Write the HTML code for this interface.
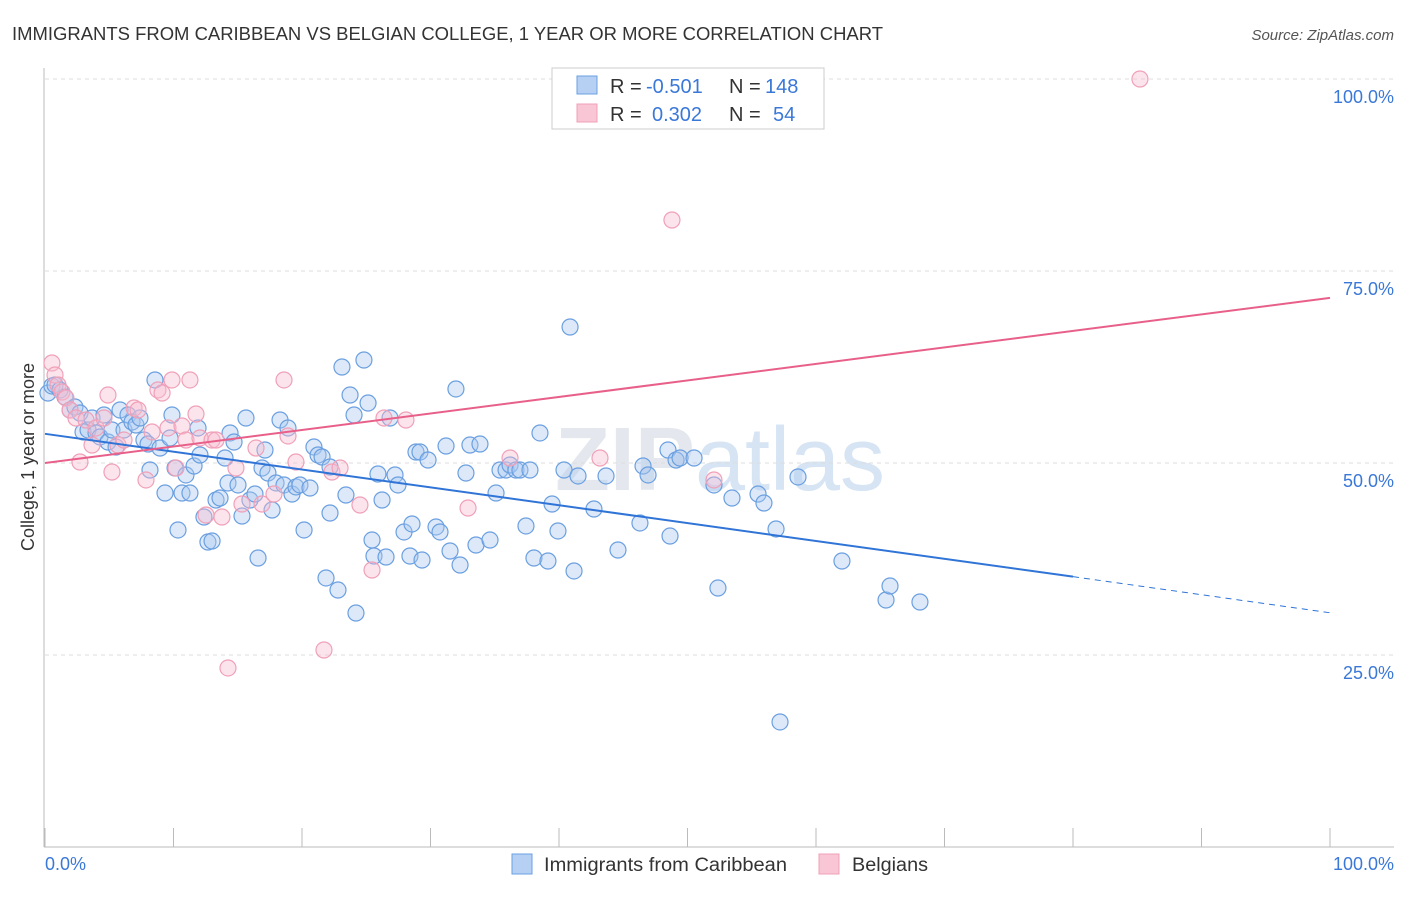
<!DOCTYPE html>
<html><head><meta charset="utf-8"><style>
body{margin:0;background:#fff;font-family:"Liberation Sans",sans-serif;}
svg text{font-family:"Liberation Sans",sans-serif;}
</style></head><body>
<svg id="chart" width="1406" height="892" xmlns="http://www.w3.org/2000/svg">
<text x="12" y="40" font-size="18.5" fill="#333" textLength="871" lengthAdjust="spacingAndGlyphs">IMMIGRANTS FROM CARIBBEAN VS BELGIAN COLLEGE, 1 YEAR OR MORE CORRELATION CHART</text>
<text x="1394" y="40" font-size="15" fill="#555" text-anchor="end" font-style="italic">Source: ZipAtlas.com</text>
<text x="720" y="490" font-size="90" fill="#e4e8ee" text-anchor="middle" font-weight="bold">ZIP<tspan fill="#d6e4f4" font-weight="normal">atlas</tspan></text>
<g id="grid"></g>
<g id="axes"></g>
<g id="pts"></g>
<g id="trend"></g>
<text x="34" y="457" font-size="18" fill="#333" text-anchor="middle" transform="rotate(-90 34 457)">College, 1 year or more</text>
<text x="45" y="870" font-size="18" fill="#3a78d8">0.0%</text>
<text x="1394" y="870" font-size="18" fill="#3a78d8" text-anchor="end">100.0%</text>
<g>
<rect x="552" y="68" width="272" height="61" fill="#fff" stroke="#ccc"/>
<rect x="577" y="76" width="20" height="18" fill="#b5d0f3" stroke="#6a9fe0"/>
<rect x="577" y="104" width="20" height="18" fill="#f9c6d6" stroke="#f0a0b8"/>
<text x="610" y="93" font-size="20" fill="#333">R =</text>
<text x="646" y="93" font-size="20" fill="#3a78d8">-0.501</text>
<text x="729" y="93" font-size="20" fill="#333">N =</text>
<text x="765" y="93" font-size="20" fill="#3a78d8">148</text>
<text x="610" y="121" font-size="20" fill="#333">R =</text>
<text x="652" y="121" font-size="20" fill="#3a78d8">0.302</text>
<text x="729" y="121" font-size="20" fill="#333">N =</text>
<text x="773" y="121" font-size="20" fill="#3a78d8">54</text>
</g>
<g>
<rect x="512" y="854" width="20" height="20" fill="#b5d0f3" stroke="#6a9fe0"/>
<text x="544" y="871" font-size="19" fill="#333" textLength="243" lengthAdjust="spacingAndGlyphs">Immigrants from Caribbean</text>
<rect x="819" y="854" width="20" height="20" fill="#f9c6d6" stroke="#f0a0b8"/>
<text x="852" y="871" font-size="19" fill="#333" textLength="76" lengthAdjust="spacingAndGlyphs">Belgians</text>
</g>
</svg>
<script>
const yTicks=[25,50,75,100];
const xTicks=[0,10,20,30,40,50,60,70,80,90,100];
// pixel-read estimates converted to percentages
const bluePx=[[48,393],[52,386],[55,385],[60,390],[65,397],[70,410],[75,407],[80,413],[83,432],[88,430],[92,418],[96,433],[100,437],[104,415],[108,442],[112,430],[116,447],[120,410],[124,430],[128,415],[132,422],[136,425],[140,418],[144,440],[148,444],[150,470],[155,380],[160,448],[165,493],[170,438],[172,415],[175,468],[178,530],[182,493],[186,475],[190,493],[194,466],[198,428],[200,455],[204,517],[208,542],[212,541],[216,500],[220,498],[225,458],[228,483],[230,433],[234,442],[238,485],[242,516],[246,418],[250,500],[255,494],[258,558],[262,468],[265,450],[268,473],[272,510],[276,483],[280,420],[284,485],[288,428],[292,494],[296,487],[300,485],[304,530],[310,488],[314,447],[318,455],[322,457],[326,578],[330,467],[330,513],[338,590],[342,367],[346,495],[350,395],[354,415],[356,613],[364,360],[368,403],[372,540],[374,556],[378,474],[382,500],[386,557],[390,418],[395,475],[398,485],[404,532],[410,556],[412,524],[416,452],[420,452],[422,560],[428,460],[436,527],[440,532],[446,446],[450,551],[456,389],[460,565],[466,473],[470,445],[476,545],[480,444],[490,540],[496,493],[500,470],[506,470],[510,465],[516,470],[520,470],[526,526],[530,470],[534,558],[540,433],[548,561],[552,504],[558,531],[564,470],[570,327],[574,571],[578,476],[594,509],[606,476],[618,550],[640,523],[643,466],[648,475],[668,450],[670,536],[676,460],[680,458],[694,458],[714,485],[718,588],[732,498],[758,494],[764,503],[776,529],[780,722],[798,477],[842,561],[886,600],[890,586],[920,602]];
const pinkPx=[[52,363],[55,375],[58,385],[62,392],[66,398],[70,410],[76,418],[80,462],[86,420],[92,445],[96,428],[104,418],[108,395],[112,472],[118,445],[124,440],[134,408],[138,410],[146,480],[152,432],[158,390],[162,393],[168,428],[172,380],[176,468],[182,426],[186,440],[190,380],[196,414],[200,438],[206,515],[212,440],[216,440],[222,517],[228,668],[236,468],[242,504],[256,448],[262,504],[274,494],[284,380],[288,436],[296,462],[324,650],[332,472],[340,468],[360,505],[372,570],[384,418],[406,420],[468,508],[510,458],[600,458],[672,220],[714,480],[1140,79]];
const blueX=bluePx.map(p=>+((p[0]-45)/12.85).toFixed(2));
const blueY=bluePx.map(p=>+((847-p[1])/7.68).toFixed(2));
const pinkX=pinkPx.map(p=>+((p[0]-45)/12.85).toFixed(2));
const pinkY=pinkPx.map(p=>+((847-p[1])/7.68).toFixed(2));
const blueTrend=[[0,53.8],[80,35.2],[100,30.5]];
const pinkTrend=[[0,50.0],[100,71.5]];
const X=v=>45+v*12.85, Y=v=>847-v*7.68;
const NS="http://www.w3.org/2000/svg";
function mk(tag,a,parent){const e=document.createElementNS(NS,tag);for(const k in a)e.setAttribute(k,a[k]);parent.appendChild(e);return e;}
const grid=document.getElementById('grid'),axes=document.getElementById('axes'),pts=document.getElementById('pts'),trend=document.getElementById('trend'),svg=document.getElementById('chart');
yTicks.forEach(t=>{
 const l=mk('line',{x1:45,x2:1394,y1:Y(t),y2:Y(t),stroke:'#dcdcdc','stroke-dasharray':'4 4'},grid);
 
 
 const tx=mk('text',{x:1394,y:Y(t)+24,'font-size':18,fill:'#3a78d8','text-anchor':'end'},svg);
 tx.textContent=t.toFixed(1)+'%';
 
 
});
const ya=mk('line',{x1:44,x2:44,y1:68,y2:847,stroke:'#bbb'},axes);


const xa=mk('line',{x1:44,x2:1394,y1:847,y2:847,stroke:'#bbb'},axes);


xTicks.forEach(t=>{
 const l=mk('line',{x1:X(t),x2:X(t),y1:828,y2:847,stroke:'#bbb'},axes);
 
 
});
function dots(xs,ys,fill,stroke,name){
 xs.forEach((x,i)=>{
  const c=mk('circle',{cx:X(x),cy:Y(ys[i]),r:8,fill:fill,'fill-opacity':0.4,stroke:stroke,'stroke-width':1.2},pts);
  
  
 });
}
dots(blueX,blueY,'#a9c8f0','#6a9fe0','caribbean-point');
dots(pinkX,pinkY,'#f7bcd0','#f0a0b8','belgian-point');
const b1=mk('line',{x1:X(blueTrend[0][0]),y1:Y(blueTrend[0][1]),x2:X(blueTrend[1][0]),y2:Y(blueTrend[1][1]),stroke:'#2f74d6','stroke-width':2},trend);


const b2=mk('line',{x1:X(blueTrend[1][0]),y1:Y(blueTrend[1][1]),x2:X(blueTrend[2][0]),y2:Y(blueTrend[2][1]),stroke:'#2f74d6','stroke-width':1,'stroke-dasharray':'6 5'},trend);


const p1=mk('line',{x1:X(pinkTrend[0][0]),y1:Y(pinkTrend[0][1]),x2:X(pinkTrend[1][0]),y2:Y(pinkTrend[1][1]),stroke:'#e8608a','stroke-width':2},trend);


</script>
</body></html>
